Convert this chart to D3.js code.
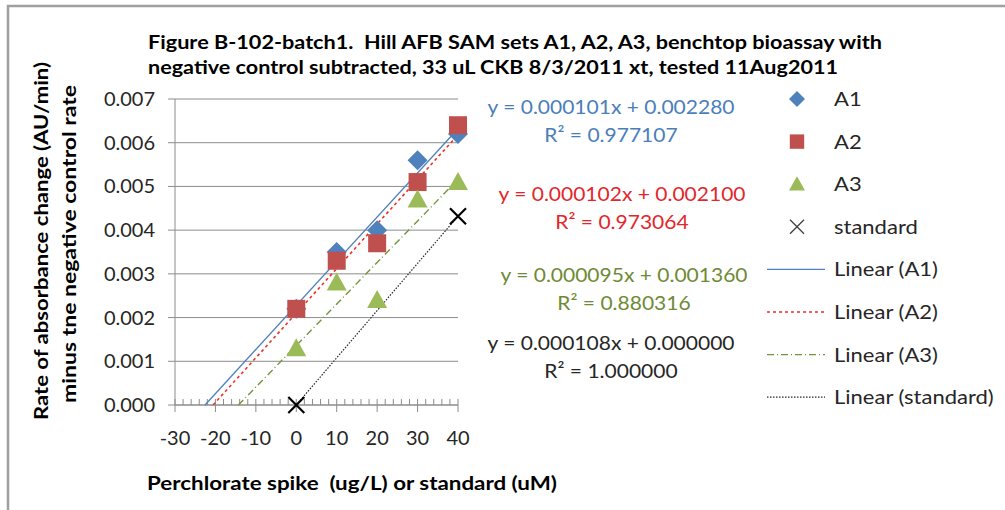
<!DOCTYPE html>
<html><head><meta charset="utf-8">
<script src="https://cdn.jsdelivr.net/npm/d3@7"></script>
<style>body{margin:0;background:#fff}svg{display:block}text{font-family:Lato,"Open Sans",sans-serif;fill:#262626;white-space:pre}</style>
</head><body>
<svg id="c" width="1005" height="510"></svg>
<script>
const xValues = [0, 10, 20, 30, 40];
const seriesNames = ["A1", "A2", "A3", "standard"];
const a1 = [0.0022, 0.0035, 0.0040, 0.0056, 0.0062];
const a2 = [0.0022, 0.0033, 0.0037, 0.0051, 0.0064];
const a3 = [0.0013, 0.0028, 0.0024, 0.0047, 0.0051];
const standardX = [0, 40];
const standardY = [0.0000, 0.00432];
const eqLines = ["y = 0.000101x + 0.002280", "y = 0.000102x + 0.002100", "y = 0.000095x + 0.001360", "y = 0.000108x + 0.000000"];
const r2Lines = ["R² = 0.977107", "R² = 0.973064", "R² = 0.880316", "R² = 1.000000"];
const xTicks = [-30, -20, -10, 0, 10, 20, 30, 40];
const yTicks = [0, 0.001, 0.002, 0.003, 0.004, 0.005, 0.006, 0.007];
const titleLines = ["Figure B-102-batch1.  Hill AFB SAM sets A1, A2, A3, benchtop bioassay with", "negative control subtracted, 33 uL CKB 8/3/2011 xt, tested 11Aug2011"];
const yTitleLines = ["Rate of absorbance change (AU/min)", "minus tne negative control rate"];
const xTitle = "Perchlorate spike  (ug/L) or standard (uM)";

const svg = d3.select("#c");
const x = d3.scaleLinear().domain([-30, 40]).range([175, 458]);
const y = d3.scaleLinear().domain([0, 0.007]).range([405, 99]);

function stretch(sel, len) {
  sel.attr("textLength", len).attr("lengthAdjust", "spacingAndGlyphs");
  return sel;
}
function widen(sel, f) {
  sel.each(function () { const w = this.getComputedTextLength(); d3.select(this).attr("textLength", w * f).attr("lengthAdjust", "spacingAndGlyphs"); });
  return sel;
}

// frame
svg.append("path").attr("d", "M8,510 L8,6 L1005,6").attr("fill", "none").attr("stroke", "#a0a0a0").attr("stroke-width", 2.5);

// title
const titleLen = [734, 690];
titleLines.forEach((t, i) => {
  stretch(svg.append("text").attr("x", 148).attr("y", 49 + i * 25)
    .attr("font-size", 19).attr("font-weight", "bold").style("fill", "#000").text(t), titleLen[i]);
});

// gridlines
svg.append("g").selectAll("line").data(yTicks).join("line")
  .attr("x1", 168).attr("x2", x(40)).attr("y1", d => y(d)).attr("y2", d => y(d))
  .attr("stroke", "#8c8c8c").attr("stroke-width", 1);
svg.append("line").attr("x1", 175).attr("x2", 175).attr("y1", y(0.007)).attr("y2", y(0)).attr("stroke", "#8c8c8c");
svg.append("g").selectAll("text").data(yTicks).join("text")
  .attr("x", 155).attr("y", d => y(d) + 7).attr("text-anchor", "end").attr("font-size", 20)
  .text(d => d3.format(".3f")(d));

// x axis
svg.append("line").attr("x1", x(-30)).attr("x2", x(40)).attr("y1", y(0)).attr("y2", y(0)).attr("stroke", "#8c8c8c");
const minor = d3.range(-30, 40.1, 2).filter(v => v % 10 !== 0);
svg.append("g").selectAll("line").data(minor).join("line")
  .attr("x1", d => x(d)).attr("x2", d => x(d)).attr("y1", y(0) - 6).attr("y2", y(0)).attr("stroke", "#8c8c8c");
svg.append("g").selectAll("line").data(xTicks).join("line")
  .attr("x1", d => x(d)).attr("x2", d => x(d)).attr("y1", y(0) - 6).attr("y2", y(0) + 7).attr("stroke", "#8c8c8c");
svg.append("g").selectAll("text").data(xTicks).join("text")
  .attr("x", d => x(d)).attr("y", 445).attr("text-anchor", "middle").attr("font-size", 20)
  .text(d => d);

// axis titles
const yTitleX = [48, 76], yTitleC = [241, 244], yTitleLen = [358, 318];
yTitleLines.forEach((t, i) => {
  stretch(svg.append("text").attr("transform", `translate(${yTitleX[i]},${yTitleC[i]}) rotate(-90)`)
    .attr("text-anchor", "middle").attr("font-size", 19).attr("font-weight", "bold").style("fill", "#000").text(t), yTitleLen[i]);
});
stretch(svg.append("text").attr("x", 147).attr("y", 490)
  .attr("font-size", 19).attr("font-weight", "bold").style("fill", "#000").text(xTitle), 410);

// trendlines via least squares
function fit(xs, ys) {
  const mx = d3.mean(xs), my = d3.mean(ys);
  let sxy = 0, sxx = 0;
  xs.forEach((v, i) => { sxy += (v - mx) * (ys[i] - my); sxx += (v - mx) * (v - mx); });
  const m = sxy / sxx; return { m, b: my - m * mx };
}
const series = [
  { name: "A1", xs: xValues, ys: a1, color: "#4F81BD", lineColor: "#4F81BD", dash: null, lw: 1.3, eqColor: "#4A7EBB", shape: "diamond" },
  { name: "A2", xs: xValues, ys: a2, color: "#C0504D", lineColor: "#F0302A", dash: "3,3", lw: 1.6, eqColor: "#E3262A", shape: "square" },
  { name: "A3", xs: xValues, ys: a3, color: "#9BBB59", lineColor: "#77933C", dash: "7,3,1,3", lw: 1.4, eqColor: "#6E8A34", shape: "triangle" },
  { name: "standard", xs: standardX, ys: standardY, color: "#000", lineColor: "#262626", dash: "1.5,1.5", lw: 1.2, eqColor: "#262626", shape: "cross" }
];
series.forEach(s => {
  const f = fit(s.xs, s.ys);
  let x0 = -30; if (f.m * x0 + f.b < 0) x0 = -f.b / f.m;
  svg.append("line").attr("x1", x(x0)).attr("y1", y(f.m * x0 + f.b)).attr("x2", x(40)).attr("y2", y(f.m * 40 + f.b))
    .attr("stroke", s.lineColor).attr("stroke-width", s.lw).attr("stroke-dasharray", s.dash);
});

function marker(g, shape, color) {
  if (shape === "diamond") g.append("path").attr("d", "M0,-10 L10,0 L0,10 L-10,0Z").attr("fill", color);
  else if (shape === "square") g.append("rect").attr("x", -9).attr("y", -9).attr("width", 18).attr("height", 18).attr("fill", color);
  else if (shape === "triangle") g.append("path").attr("d", "M0,-10 L10,8 L-10,8Z").attr("fill", color);
  else g.append("path").attr("d", "M-8,-8 L8,8 M-8,8 L8,-8").attr("stroke", color).attr("stroke-width", 2.2);
}
series.forEach(s => {
  const g = svg.append("g");
  s.xs.forEach((v, i) => marker(g.append("g").attr("transform", `translate(${x(v)},${y(s.ys[i])})`), s.shape, s.color));
});

// equations
const eqPos = [[611, 114, 142], [622, 201, 229], [624, 282, 310], [611, 350, 378]];
series.forEach((s, i) => {
  widen(svg.append("text").attr("x", eqPos[i][0]).attr("y", eqPos[i][1]).attr("text-anchor", "middle").attr("font-size", 20).style("fill", s.eqColor).text(eqLines[i]), 1.05);
  widen(svg.append("text").attr("x", eqPos[i][0]).attr("y", eqPos[i][2]).attr("text-anchor", "middle").attr("font-size", 20).style("fill", s.eqColor).text(r2Lines[i]), 1.05);
});

// legend
const legY = d3.range(8).map(i => 99 + i * 42.6);
series.forEach((s, i) => {
  const g = svg.append("g").attr("transform", `translate(797,${legY[i]})`);
  if (s.shape === "cross") g.append("path").attr("d", "M-7,-7 L7,7 M-7,7 L7,-7").attr("stroke", "#404040").attr("stroke-width", 1.3);
  else marker(g.append("g").attr("transform", "scale(0.8)"), s.shape, s.color);
  widen(svg.append("text").attr("x", 834).attr("y", legY[i] + 7).attr("font-size", 20).text(s.name), 1.1);
  const ly = legY[i + 4];
  svg.append("line").attr("x1", 767).attr("x2", 825).attr("y1", ly).attr("y2", ly)
    .attr("stroke", s.lineColor).attr("stroke-width", s.lw).attr("stroke-dasharray", s.dash);
  widen(svg.append("text").attr("x", 834).attr("y", ly + 7).attr("font-size", 20).text(`Linear (${s.name})`), 1.1);
});
</script>
</body></html>
